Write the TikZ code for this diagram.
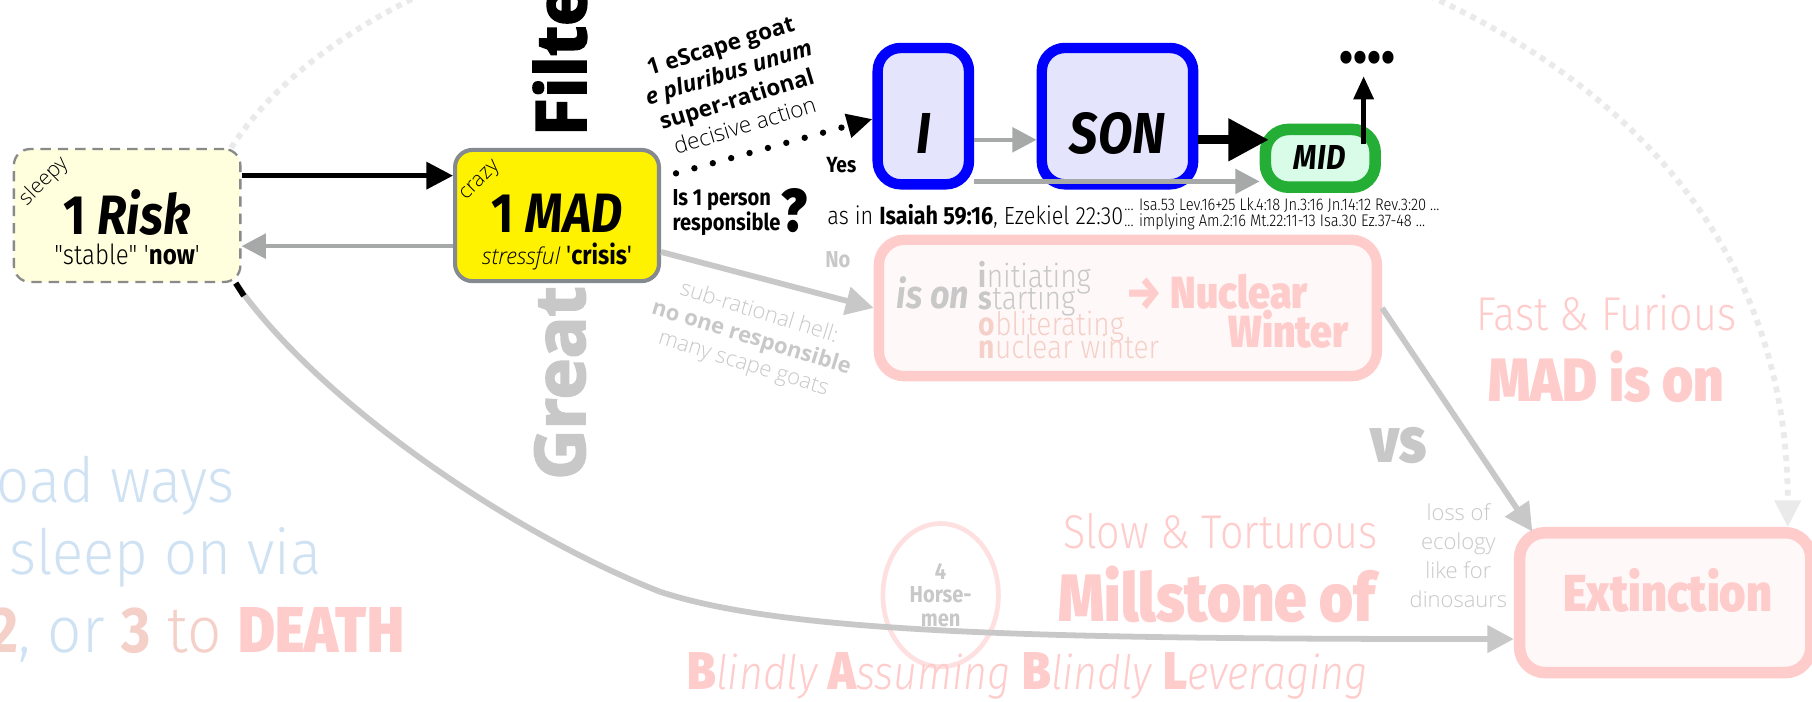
\documentclass[tikz,border=0pt]{standalone}
\usepackage{fontspec}
\usetikzlibrary{arrows.meta,shapes.geometric}
\setmainfont{Fira Sans}
\newfontfamily\fc{Fira Sans}[FakeStretch=0.87]
\IfFontExistsTF{Fira Sans Light}{%
  \newfontfamily\fl{Fira Sans Light}[FakeStretch=0.87]%
  \newfontfamily\flw{Fira Sans Light}[FakeStretch=0.93]%
}{%
  \newfontfamily\fl{Fira Sans}[FakeStretch=0.87]%
  \newfontfamily\flw{Fira Sans}[FakeStretch=0.93]%
}
\IfFontExistsTF{Fira Sans Heavy}{%
  \newfontfamily\fhx{Fira Sans Heavy}[FakeStretch=0.87]\newcommand\fh{\fhx}%
}{\IfFontExistsTF{Fira Sans Black}{%
  \newfontfamily\fhx{Fira Sans Black}[FakeStretch=0.87]\newcommand\fh{\fhx}%
}{%
  \newfontfamily\fhx{Fira Sans}[FakeStretch=0.87,BoldFeatures={FakeBold=2.5}]\newcommand\fh{\fhx\bfseries}%
}}
\newfontfamily\os{Open Sans}
\IfFontExistsTF{Open Sans Light}{%
  \newfontfamily\osl{Open Sans Light}%
}{%
  \newfontfamily\osl{Open Sans}%
}
\IfFontExistsTF{Open Sans ExtraBold}{%
  \newfontfamily\osxx{Open Sans ExtraBold}\newcommand\osx{\osxx}%
}{%
  \newfontfamily\osxx{Open Sans}[BoldFeatures={FakeBold=3}]\newcommand\osx{\osxx\bfseries}%
}
\newcommand\fsz[2]{\fontsize{#1}{#2}\selectfont}
\newcommand\dq{\char"22\relax}
\newcommand\sq{\char"27\relax}
\definecolor{pk}{HTML}{FFCCCC}
\definecolor{pk2}{HTML}{FFE0E0}
\definecolor{pkfill}{HTML}{FFF8F8}
\definecolor{lg}{HTML}{C8C8C8}
\definecolor{ag}{HTML}{A7A9A9}
\definecolor{bl}{HTML}{CFE2F3}
\definecolor{sal}{HTML}{F4D0C8}
\definecolor{lav}{HTML}{E4E4FC}
\definecolor{mint}{HTML}{D9FCE9}
\definecolor{grn}{HTML}{25AE35}
\definecolor{ryel}{HTML}{FFFEDD}
\definecolor{rgray}{HTML}{8A8A8A}
\definecolor{mgray}{HTML}{848A90}
\definecolor{dotg}{HTML}{EAEAEA}
\begin{document}
\begin{tikzpicture}[x=1pt,y=-1pt,
 txt/.style={inner sep=0pt,outer sep=0pt},
 riskbox/.style={rectangle,rounded corners=14pt,draw=rgray,line width=2pt,dash pattern=on 9pt off 6pt,fill=ryel,minimum width=196pt,minimum height=115pt,inner sep=0pt},
 madbox/.style={rectangle,rounded corners=15pt,draw=mgray,line width=3.5pt,fill=yellow,minimum width=176.5pt,minimum height=113.5pt,inner sep=0pt},
 bluebox/.style={rectangle,rounded corners=20pt,draw=blue,line width=9pt,fill=lav,minimum height=118pt,inner sep=0pt},
 midbox/.style={rectangle,rounded corners=20pt,draw=grn,line width=10pt,fill=mint,minimum width=95pt,minimum height=50pt,inner sep=0pt},
 pinkbox/.style={rectangle,rounded corners=22pt,draw=pk,fill=pkfill,inner sep=0pt},
 blk/.style={draw=black,line width=4pt,-{Triangle[length=23pt,width=23pt]}},
 bigblk/.style={draw=black,line width=8pt,-{Triangle[length=35pt,width=35pt]}},
 gra/.style={draw=ag,line width=4pt,-{Triangle[length=21pt,width=21pt]}},
 lga/.style={draw=lg,line width=5pt,-{Triangle[length=24pt,width=24pt]}},
 gcurve/.style={draw=lg,line width=5pt},
 dotarc/.style={draw=dotg,line width=5pt,dash pattern=on 5pt off 5pt,-{Triangle[length=23pt,width=22pt]}},
 dotblk/.style={draw=black,line width=5.5pt,line cap=round,dash pattern=on 0pt off 16.5pt,-{Triangle[length=22pt,width=20pt]}}
]
\useasboundingbox (0,0) rectangle (1568,607);
\fill[white] (0,0) rectangle (1568,607);

% boxes
\node[riskbox] (risk) at (110,186.5) {};
\node[madbox] (mad) at (482,186.5) {};
\node[bluebox,minimum width=79pt] (ibox) at (799,100.5) {};
\node[bluebox,minimum width=131pt] (son) at (967,100.5) {};
\node[midbox] (mid) at (1142.5,137) {};
\node[pinkbox,line width=9pt,minimum width=431pt,minimum height=118pt] (nuc) at (976,266.5) {};
\node[pinkbox,line width=10pt,minimum width=252pt,minimum height=121pt] (ext) at (1441,521.5) {};
\node[ellipse,draw=pk2,line width=4pt,minimum width=100pt,minimum height=124pt,inner sep=0pt,align=center,text=lg,font=\fc\bfseries\fsz{20}{20.5}] (horse) at (814,515) {4\\Horse-\\men};

% big dotted arc
\draw[dotarc] ([xshift=-9pt]risk.north east) .. controls (418,-209) and (1547,-194) .. ([xshift=106pt]ext.north);

% long curve to extinction
\draw[gcurve] ([xshift=-5pt]risk.south east) .. controls (275,347) and (441,461) .. (571,512) coordinate (cj);
\draw[gcurve,-{Triangle[length=23pt,width=23pt]}] (cj) .. controls (680,548) and (900,553) .. ([yshift=-31.5pt]ext.west);
\draw[black,line width=5pt] ([xshift=-5pt]risk.south east) -- ++(7,11);

% Great / Filter
\node[txt,anchor=base west,rotate=90,text=lg] (great) at (506,415) {\osx\fsz{60}{66}Great};
\node[txt,anchor=base west,rotate=90] (filter) at (507,118) {\osx\fsz{60}{66}Filter};

% connectors
\draw[blk] ([yshift=34.5pt]risk.east) -- ([yshift=34.5pt]mad.west);
\draw[gra] ([yshift=-26.5pt]mad.west) -- ([yshift=-26.5pt]risk.east);
\draw[lga] ([yshift=-31.5pt]mad.east) -- (nuc.west);
\draw[lga] (nuc.east) -- ([xshift=16pt,yshift=-4pt]ext.north west);
\draw[gra] ([yshift=-20.5pt]ibox.east) -- ([yshift=-20.5pt]son.west);
\draw[gra] ([yshift=-56.5pt]ibox.east) -- ([yshift=-20pt]mid.west);
\draw[bigblk] ([yshift=-20.5pt]son.east) -- ([xshift=8pt,yshift=16pt]mid.west);
\coordinate (upend) at (1180,66);
\draw[blk,-{Triangle[length=20pt,width=17pt]}] ([xshift=37.5pt,yshift=12pt]mid.center) -- (upend);
\coordinate (dstart) at (585,150);
\draw[dotblk] (dstart) -- ([yshift=-2.5pt]ibox.west);

% Risk texts
\node[txt,anchor=base] (riskt) at (110,203) {\fc\fsz{48}{52}\bfseries 1 \itshape Risk};
\node[txt,anchor=base] (risks) at (110,229) {\fsz{24}{26}{\fl\dq stable\dq\ \sq}{\fc\bfseries now}{\fl\sq}};
\node[txt,rotate=45] (sleepy) at (38,157) {\osl\fsz{18}{20}sleepy};
% MAD texts
\node[txt,anchor=base] (madt) at (482,201) {\fc\fsz{48}{52}\bfseries 1 \itshape MAD};
\node[txt,anchor=base] (mads) at (482,229) {{\osl\itshape\fsz{20}{24}stressful }{\fc\fsz{23}{26}\sq\textbf{crisis}\sq}};
\node[txt,rotate=45] (crazy) at (416,157) {\osl\fsz{18}{20}crazy};

% escape goat block
\node[txt,rotate=17,align=center,font=\os\fsz{19.5}{24}] (esc) at (634,74) {\textbf{1 eScape goat}\\\textbf{\itshape e pluribus unum}\\\textbf{super-rational}\\{\osl decisive action}};
\node[txt] (yes) at (728,143) {\fc\bfseries\fsz{19}{20}Yes};
\node[txt,anchor=west,align=left,font=\fc\bfseries\fsz{20}{16}] (q) at (582,184) {Is 1 person\\responsible};
\node[txt,anchor=base west] (qm) at (676,200) {\fh\fsz{52}{52}?};
\node[txt,anchor=base west] (asin) at (716,194) {\fsz{21.5}{24}{\fl as in }{\fc\bfseries Isaiah 59:16}{\fl , Ezekiel 22:30}};
\node[txt,anchor=base west] (refs1) at (973,182) {\fl\fsz{14.6}{15}... Isa.53 Lev.16+25 Lk.4:18 Jn.3:16 Jn.14:12 Rev.3:20 ...};
\node[txt,anchor=base west] (refs2) at (973,196) {\fl\fsz{14.6}{15}... implying Am.2:16 Mt.22:11-13 Isa.30 Ez.37-48 ...};

% I SON MID
\node[txt,anchor=base] (it) at (799,133) {\fc\bfseries\itshape\fsz{50}{52}I};
\node[txt,anchor=base] (sont) at (967,133) {\fc\bfseries\itshape\fsz{50}{52}SON};
\node[txt,anchor=base] (midt) at (1142,147) {\fc\bfseries\itshape\fsz{30}{30}MID};
\node[txt,anchor=base] (dots) at (1183,64) {\fc\bfseries\fsz{40}{40}••••};

% No branch
\node[txt,text=lg] (no) at (725,225) {\fc\bfseries\fsz{20}{20}No};
\node[txt,rotate=-17,align=center,text=lg,font=\osl\fsz{19}{23}] (subr) at (650,293) {sub-rational hell:\\{\os\bfseries no one responsible}\\many scape goats};

% Nuclear box texts
\node[txt,anchor=base west,text=lg] (ison) at (776,267) {\fc\bfseries\itshape\fsz{34}{36}is on};
\node[txt,anchor=base west,text=lg] (l1) at (847,249) {\fsz{28}{22}{\fc\bfseries i}{\fl nitiating}};
\node[txt,anchor=base west,text=lg] (l2) at (847,268) {\fsz{28}{22}{\fc\bfseries s}{\fl tarting}};
\node[txt,anchor=base west,text=sal] (l3) at (847,290) {\fsz{28}{22}{\fc\bfseries o}{\fl bliterating}};
\node[txt,anchor=base west,text=sal] (l4) at (847,310) {\fsz{28}{22}{\fc\bfseries n}{\fl uclear winter}};
\node[txt,anchor=base west,text=pk] (nucl) at (975,267) {\fh\fsz{39}{40}→ Nuclear};
\node[txt,anchor=base west,text=pk] (wint) at (1063,301) {\fh\fsz{39}{40}Winter};

% right side
\node[txt,anchor=base,text=lg] (vs) at (1210,400) {\fh\fsz{55}{56}vs};
\node[txt,anchor=base,text=pk] (fast) at (1390,286) {\fl\fsz{41}{44}Fast \& Furious};
\node[txt,anchor=base,text=pk] (madon) at (1390,347) {\fh\fsz{53}{56}MAD is on};
\node[txt,align=center,text=lg,font=\osl\fsz{19}{25}] (loss) at (1262,481) {loss of\\ecology\\like for\\dinosaurs};
\node[txt,anchor=base,text=pk] (extt) at (1443,529) {\fh\fsz{45}{48}Extinction};

% bottom middle
\node[txt,anchor=base,text=pk] (slow) at (1056,475) {\fl\fsz{41}{46}Slow \& Torturous};
\node[txt,anchor=base,text=pk] (mill) at (1053,538) {\fh\fsz{58}{60}Millstone of};
\node[txt,anchor=base west,text=pk] (bab) at (595,597) {{\fh\fsz{46}{50}B}{\fl\itshape\fsz{41}{50}lindly }{\fh\fsz{46}{50}A}{\fl\itshape\fsz{41}{50}ssuming }{\fh\fsz{46}{50}B}{\fl\itshape\fsz{41}{50}lindly }{\fh\fsz{46}{50}L}{\fl\itshape\fsz{41}{50}everaging}};

% left texts
\node[txt,anchor=base west,text=bl] (lt1) at (-3,435) {\flw\fsz{54}{60}oad ways};
\node[txt,anchor=base west,text=bl] (lt2) at (8,497) {\flw\fsz{54}{60}sleep on via};
\node[txt,anchor=base west] (lt3) at (-9,565) {\fsz{56}{60}{\fc\bfseries\color{sal}2}{\flw\color{bl}, or\ }{\fc\bfseries\color{sal}3}{\flw\color{sal}\ to\ }{\fh\color{pk}DEATH}};
\end{tikzpicture}
\end{document}
